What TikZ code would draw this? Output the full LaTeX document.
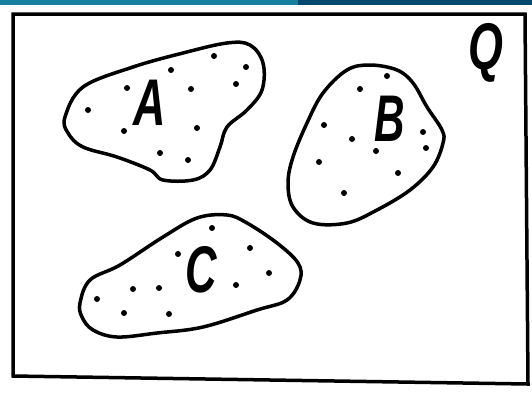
\documentclass[tikz,border=0pt]{standalone}
\usepackage{fontspec}
\setmainfont{Liberation Sans}
\definecolor{barleft}{HTML}{16809F}
\definecolor{barright}{HTML}{03496E}
\tikzset{
  blob/.style={line width=3.5pt, line join=round},
  frame/.style={line width=3.5pt, line join=miter},
  dot/.style={circle, fill=black, inner sep=0pt, minimum size=6pt},
  lbl/.style={inner sep=0pt, font=\fontsize{66}{66}\selectfont\bfseries\itshape}
}
\begin{document}
\begin{tikzpicture}[x=1pt,y=-1pt]
\useasboundingbox (0,0) rectangle (532,392);
\fill[white] (0,0) rectangle (532,392);
% top bar
\fill[barleft] (0,0) rectangle (298,5);
\fill[barright] (298,0) rectangle (532,5);
% frame
\draw[frame] (13,14) -- (525,14) -- (528,384) -- (13,376) -- cycle;
% blob A
\draw[blob] plot[smooth cycle, tension=0.6] coordinates {(65,117) (83,87) (133,67) (183,53) (227,43) (250,45) (263,63) (262,90) (247,110) (227,127) (220,147) (210,170) (193,180) (163,180) (150,170) (117,157) (83,147) (68,133)};
% blob B
\draw[blob] plot[smooth cycle, tension=0.6] coordinates {(370,65) (397,70) (413,83) (427,107) (442,130) (443,143) (433,167) (410,190) (377,210) (347,223) (313,223) (293,207) (288,183) (293,157) (307,123) (323,93) (347,70)};
% blob C
\draw[blob] plot[smooth cycle, tension=0.6] coordinates {(80,303) (90,280) (120,265) (163,237) (197,218) (227,215) (247,223) (277,243) (298,263) (300,280) (287,300) (257,310) (203,327) (157,333) (117,337) (93,330) (82,317)};
% dots A
\foreach \p [count=\i] in {(214,56),(246,67),(171,70),(236,84),(127,88),(191,89),(88,110),(124,131),(197,128),(160,153),(188,160)}
  \node[dot] (da\i) at \p {};
% dots B
\foreach \p [count=\i] in {(387,76),(360,89),(324,125),(423,132),(352,139),(426,148),(376,151),(319,162),(398,173),(344,193)}
  \node[dot] (db\i) at \p {};
% dots C
\foreach \p [count=\i] in {(212,228),(250,248),(178,254),(269,273),(236,285),(133,289),(159,288),(97,299),(124,313),(169,314)}
  \node[dot] (dc\i) at \p {};
% labels
\node[lbl] (A) at (150,103) {\scalebox{0.68}[1]{A}};
\node[lbl] (B) at (390,119) {\scalebox{0.64}[1]{B}};
\node[lbl] (C) at (201,270) {\scalebox{0.66}[1]{C}};
\node[lbl] (Q) at (486,53) {\scalebox{0.68}[1]{Q}};
\end{tikzpicture}
\end{document}
